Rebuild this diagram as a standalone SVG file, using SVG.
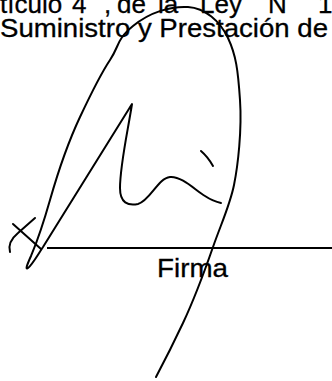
<svg xmlns="http://www.w3.org/2000/svg" width="332" height="381" viewBox="0 0 332 381">
<style>
.t{font-family:"Liberation Sans",Arial,sans-serif;font-size:26px;fill:#000;stroke:#000;stroke-width:0.3}
.s{fill:none;stroke:#000;stroke-width:2;stroke-linecap:round;stroke-linejoin:round}
</style>
<rect width="332" height="381" fill="#fff"/>
<g id="text">
<text class="t" y="13"><tspan x="0">tículo</tspan><tspan x="72">4</tspan><tspan x="104">,</tspan><tspan x="117">de</tspan><tspan x="158">la</tspan><tspan x="200">Ley</tspan><tspan x="268">N</tspan><tspan x="318">1</tspan></text>
<text class="t" x="0" y="37" textLength="328" lengthAdjust="spacingAndGlyphs">Suministro y Prestación de</text>
</g>
<g id="signature">
<path class="s" d="M156,377 C165,360 175,340 183,323 S205,270 213,247 S230,205 234,185 S242,130 240,100 S236,55 228,38 S205,8 188,7 S150,12 133,26 S120,45 110,60 S88,100 80,117 S60,165 50,200 S36,244 31,256 C27,265 25,270 28,268 C32,265 37,256 43,247 L132,104 C128,130 120,165 120,188 C120,203 128,206 138,204 C150,201 158,178 170,177 C182,176 195,190 205,196 C211,200 216,202 221,203"/>
<path class="s" d="M201,151 Q208,157 213,166"/>
<path class="s" d="M13,224 L41,249"/>
<path class="s" d="M10,252 C8,245 12,238 18,233 L35,218"/>
</g>
<g id="line">
<line x1="47" y1="248" x2="332" y2="248" stroke="#000" stroke-width="2"/>
</g>
<g id="label">
<text class="t" x="157" y="277" textLength="71" lengthAdjust="spacingAndGlyphs">Firma</text>
</g>
</svg>
